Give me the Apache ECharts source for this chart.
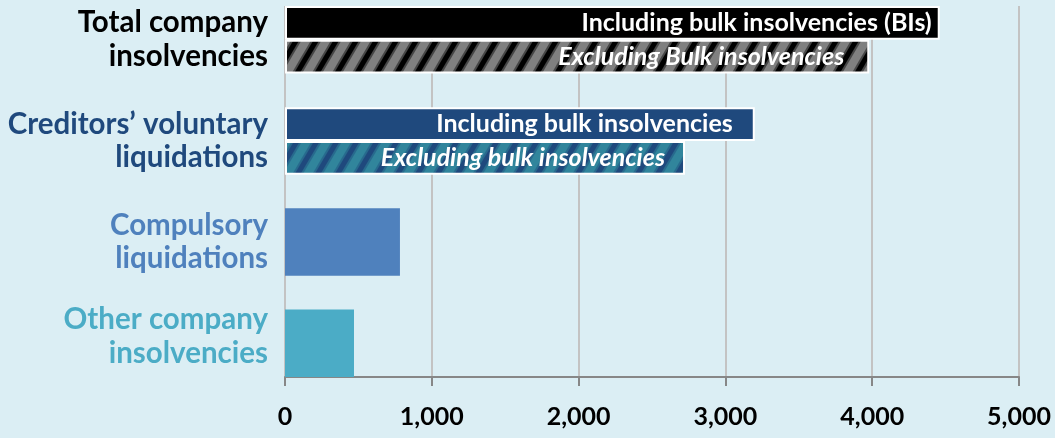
<!DOCTYPE html>
<html>
<head>
<meta charset="utf-8">
<script src="https://cdn.jsdelivr.net/npm/echarts@6/dist/echarts.min.js"></script>
<style>
  html, body { margin: 0; padding: 0; background: #DBEEF4; }
  #chart { width: 1055px; height: 438px; }
</style>
</head>
<body>
<div id="chart"></div>
<script>
// data
const categories = ['Total company insolvencies', 'Creditors’ voluntary liquidations', 'Compulsory liquidations', 'Other company insolvencies'];
const labelLines = [['Total company', 'insolvencies'], ['Creditors’ voluntary', 'liquidations'], ['Compulsory', 'liquidations'], ['Other company', 'insolvencies']];
const includingBulk = [4460, 3200];          // Total, CVL
const excludingBulk = [3980, 2725];          // Total, CVL
const singleBars = [783, 470];               // Compulsory, Other
const includingText = ['Including bulk insolvencies (BIs)', 'Including bulk insolvencies'];
const excludingText = ['Excluding Bulk insolvencies', 'Excluding bulk insolvencies'];
const xTicks = [0, 1000, 2000, 3000, 4000, 5000];

const FONT = 'Lato';
const catColors = ['#000000', '#1F497D', '#4F81BD', '#4BACC6'];
const incPad = [8, 22];
const excPad = [25, 20];

// hatch tiles, soft-edged diagonal stripes
function stripes(bg, fg) {
    const w = 20, h = 34;
    const cv = document.createElement('canvas');
    cv.width = w; cv.height = h;
    const ctx = cv.getContext('2d');
    ctx.fillStyle = bg;
    ctx.fillRect(0, 0, w, h);
    ctx.strokeStyle = fg;
    [[9, 0.45], [5, 1]].forEach(([lw, a]) => {
        ctx.globalAlpha = a;
        ctx.lineWidth = lw;
        [-w, 0, w].forEach(dx => {
            ctx.beginPath();
            ctx.moveTo(dx - w * 0.5, h * 1.5);
            ctx.lineTo(dx + w * 1.5, -h * 0.5);
            ctx.stroke();
        });
    });
    return cv;
}

// each category takes two slots, plus one empty slot between categories
const nSlots = categories.length * 3 - 1;
const slotNames = [], slotText = [], slotCat = [];
for (let i = 0; i < nSlots; i++) {
    const c = Math.floor(i / 3), k = i % 3;
    slotNames.push('s' + i);
    slotText.push(k < 2 ? labelLines[c][k] : '');
    slotCat.push(k < 2 ? c : -1);
}
// slot boundaries, used by the full-height bars (centred between their two slots)
const edgeNames = [];
for (let i = 0; i <= nSlots; i++) edgeNames.push('e' + i);

const blank = n => new Array(n).fill('-');
const incData = blank(nSlots), excData = blank(nSlots), singleData = blank(nSlots + 1);
includingBulk.forEach((v, c) => {
    incData[3 * c] = { value: v, label: { formatter: includingText[c], distance: incPad[c] } };
});
excludingBulk.forEach((v, c) => {
    excData[3 * c + 1] = { value: v, label: { formatter: excludingText[c], distance: excPad[c] } };
});
singleBars.forEach((v, j) => {
    const c = includingBulk.length + j;
    singleData[3 * c + 1] = { value: v, itemStyle: { color: catColors[c] } };
});

const base = { type: 'bar', stack: 'slot', barWidth: '100%', barCategoryGap: '0%', silent: true };
const barLabel = {
    show: true, position: 'insideRight', color: '#fff',
    fontFamily: FONT, fontWeight: 'bold', fontSize: 25
};

const chart = echarts.init(document.getElementById('chart'));
chart.setOption({
    backgroundColor: '#DBEEF4',
    animation: false,
    grid: { left: 285, right: 36, top: 6, bottom: 61 },
    xAxis: {
        type: 'value', min: xTicks[0], max: xTicks[xTicks.length - 1], interval: 1000,
        axisLine: { show: true, lineStyle: { color: '#878787', width: 2 } },
        axisTick: { show: true, length: 9, lineStyle: { color: '#878787', width: 2 } },
        splitLine: { show: true, lineStyle: { color: '#C3C3C3', width: 2 } },
        axisLabel: {
            formatter: v => v.toLocaleString('en-US'),
            color: '#000', fontFamily: FONT, fontWeight: 'bold', fontSize: 25, margin: 27
        }
    },
    yAxis: [{
        type: 'category', inverse: true, data: slotNames,
        axisLine: { show: false }, axisTick: { show: false },
        axisLabel: {
            interval: 0, margin: 17,
            fontFamily: FONT, fontWeight: 'bold', fontSize: 29.5,
            formatter: (v, i) => slotCat[i] === 3 ? '{u|' + slotText[i] + '}' : slotText[i],
            color: (v, i) => catColors[Math.max(slotCat[i], 0)],
            rich: { u: { padding: [0, 0, 14, 0], fontFamily: FONT, fontWeight: 'bold', fontSize: 29.5 } }
        }
    }, {
        type: 'category', inverse: true, data: edgeNames, boundaryGap: false, show: false
    }],
    series: [
        Object.assign({}, base, {
            name: 'Including', data: incData,
            itemStyle: {
                color: (p) => p.dataIndex === 0 ? '#000000' : '#1F497D',
                borderColor: '#ffffff', borderWidth: 2
            },
            label: barLabel
        }),
        Object.assign({}, base, {
            name: 'Excluding', data: excData,
            itemStyle: {
                color: (p) => p.dataIndex === 1
                    ? { image: stripes('#808080', '#000000'), repeat: 'repeat' }
                    : { image: stripes('#31859C', '#1F497D'), repeat: 'repeat' },
                borderColor: '#ffffff', borderWidth: 2
            },
            label: Object.assign({}, barLabel, { fontStyle: 'italic' })
        }),
        {
            type: 'bar', name: 'Compulsory / Other', yAxisIndex: 1, barWidth: '200%', silent: true,
            data: singleData
        }
    ]
});
</script>
</body>
</html>
